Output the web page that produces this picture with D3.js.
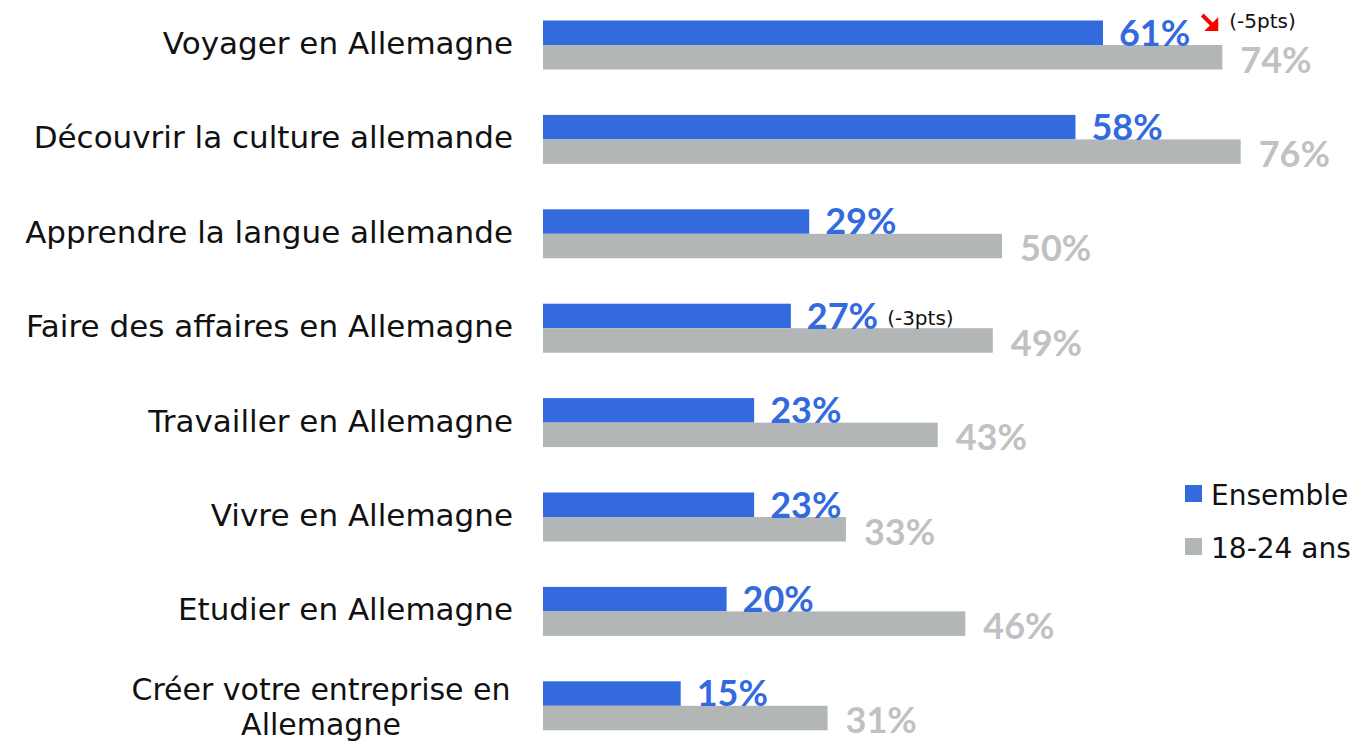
<!DOCTYPE html>
<html><head><meta charset="utf-8">
<script src="https://cdn.jsdelivr.net/npm/d3@7"></script>
<style>
html,body{margin:0;padding:0;background:#fff;}
svg{display:block;}
</style></head>
<body>
<svg id="chart" width="1357" height="741"></svg>
<script>
const categories = ["Voyager en Allemagne","Découvrir la culture allemande","Apprendre la langue allemande","Faire des affaires en Allemagne","Travailler en Allemagne","Vivre en Allemagne","Etudier en Allemagne","Créer votre entreprise en Allemagne"];
const ensemble = [61,58,29,27,23,23,20,15];
const jeunes = [74,76,50,49,43,33,46,31];
const seriesNames = ["Ensemble","18-24 ans"];
const annotations = [{cat:0, text:"(-5pts)", arrow:true},{cat:3, text:"(-3pts)", arrow:false}];

const FONT = "'DejaVu Sans',sans-serif";
const VFONT = "'Lato','Open Sans',sans-serif";
const BLUE = "#336ADD", GRAY = "#B3B6B7", GRAYTXT = "#BFC1C3";
const svg = d3.select("#chart");

const x = d3.scaleLinear().domain([0,100]).range([543, 543+918]);
const y = d3.scaleBand().domain(categories).range([-2.2, 753]).paddingInner(0).paddingOuter(0);
const barH = 24.5;
const center = c => y(c) + y.bandwidth()/2;

const g = svg.append("g");
const rows = g.selectAll("g.row").data(categories).join("g").attr("class","row");

// bars
rows.append("rect").attr("x", x(0)).attr("y", c => center(c)-barH)
  .attr("width", (c,i)=>x(ensemble[i])-x(0)).attr("height", barH).attr("fill", BLUE);
rows.append("rect").attr("x", x(0)).attr("y", c => center(c))
  .attr("width", (c,i)=>x(jeunes[i])-x(0)).attr("height", barH).attr("fill", GRAY);

// value labels
const blueLbl = rows.append("text").attr("class","vb").attr("x",(c,i)=>x(ensemble[i])+16).attr("y",c=>center(c)+0.5)
  .attr("font-family",VFONT).attr("font-weight","bold").attr("font-size",36).attr("fill",BLUE)
  .text((c,i)=>ensemble[i]+"%");
rows.append("text").attr("x",(c,i)=>x(jeunes[i])+18).attr("y",c=>center(c)+27.5)
  .attr("font-family",VFONT).attr("font-weight","bold").attr("font-size",36).attr("fill",GRAYTXT)
  .text((c,i)=>jeunes[i]+"%");

// category labels
rows.each(function(c,i){
  const sel = d3.select(this);
  if (c.startsWith("Créer")) {
    const t = sel.append("text").attr("text-anchor","middle").attr("font-family",FONT).attr("font-size",30).attr("fill","#111");
    t.append("tspan").attr("x",321).attr("y",center(c)-6).text("Créer votre entreprise en");
    t.append("tspan").attr("x",321).attr("y",center(c)+29).text("Allemagne");
  } else {
    sel.append("text").attr("x",513).attr("y",center(c)+9).attr("text-anchor","end")
      .attr("font-family",FONT).attr("font-size",31).attr("fill","#111").text(c);
  }
});

// annotations
annotations.forEach(a=>{
  const c = categories[a.cat];
  const node = blueLbl.filter(d=>d===c).node();
  const bx = x(ensemble[a.cat]) + 16;
  const w = node.getComputedTextLength();
  if (a.arrow) {
    const ax = bx + w + 11, ay = center(c) - 31;
    g.append("line").attr("x1",ax+1).attr("y1",ay+1).attr("x2",ax+11).attr("y2",ay+11).attr("stroke","#f00").attr("stroke-width",4);
    g.append("path").attr("d",`M${ax+17},${ay+3} L${ax+17},${ay+17} L${ax+3},${ay+17} Z`).attr("fill","#f00");
    g.append("text").attr("x",ax+28).attr("y",center(c)-17).attr("font-family",FONT).attr("font-size",20).attr("fill","#111").text(a.text);
  } else {
    g.append("text").attr("x",bx+w+9).attr("y",center(c)-3).attr("font-family",FONT).attr("font-size",20).attr("fill","#111").text(a.text);
  }
});

// legend
const legend = svg.append("g").attr("transform","translate(1185,477)");
const lg = legend.selectAll("g").data(seriesNames).join("g").attr("transform",(d,i)=>`translate(0,${i*53})`);
lg.append("rect").attr("x",0).attr("y",8).attr("width",17).attr("height",17).attr("fill",(d,i)=>i===0?BLUE:GRAY);
lg.append("text").attr("x",26).attr("y",28).attr("font-family",FONT).attr("font-size",28).attr("fill","#111").text(d=>d);
</script>
</body></html>
